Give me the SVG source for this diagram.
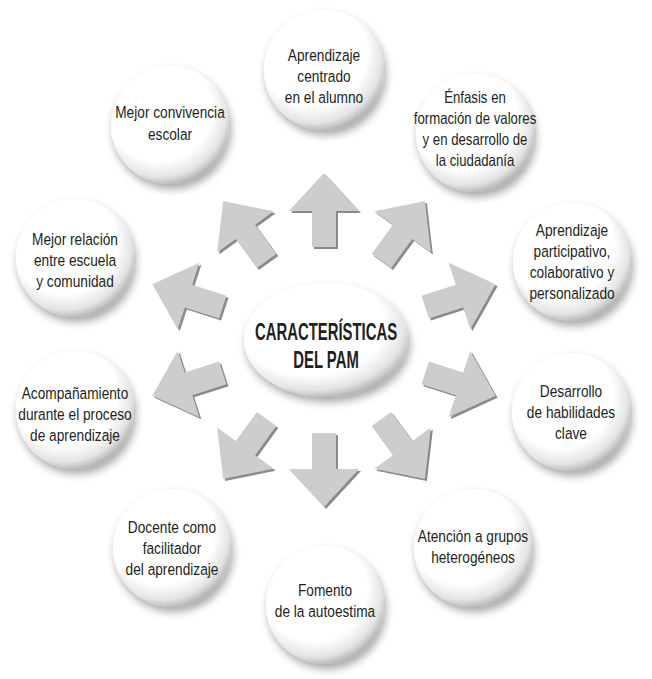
<svg xmlns="http://www.w3.org/2000/svg" xmlns:xlink="http://www.w3.org/1999/xlink" width="652" height="679" viewBox="0 0 652 679">
<style>
.lbl{font-family:"Liberation Sans",Arial,sans-serif;font-size:16.5px;fill:#231f20;text-anchor:middle}
.ttl{font-family:"Liberation Sans",Arial,sans-serif;font-size:24px;font-weight:bold;fill:#231f20;text-anchor:middle}
.ball{fill:url(#gBall);filter:url(#sh)}
.aL{fill:#cdcdcd}
.aD{fill:#8a8a8a}
</style>
<defs>
<radialGradient id="gBall" cx="0.42" cy="0.38" r="0.66" fx="0.38" fy="0.32">
<stop offset="0" stop-color="#ffffff"/>
<stop offset="0.68" stop-color="#ffffff"/>
<stop offset="0.86" stop-color="#e4e4e4"/>
<stop offset="1" stop-color="#a4a4a4"/>
</radialGradient>
<filter id="sh" x="-30%" y="-30%" width="160%" height="170%">
<feGaussianBlur in="SourceAlpha" stdDeviation="4"/>
<feOffset dx="2" dy="5" result="b"/>
<feComponentTransfer><feFuncA type="linear" slope="0.35"/></feComponentTransfer>
<feMerge><feMergeNode/><feMergeNode in="SourceGraphic"/></feMerge>
</filter>
<polygon id="arrL" class="aL" points="0,0 -38,-35 -38,-12 -74,-12 -74,12 -38,12 -38,35"/>
<polygon id="arrD" class="aD" points="0,0 -38,-35 -38,-12 -74,-12 -74,12 -38,12 -38,35"/>
</defs>
<rect width="652" height="679" fill="#ffffff"/>

<g id="connectors">
<g transform="translate(324,173)"><use xlink:href="#arrD" transform="translate(2,2) rotate(-90)"/><use xlink:href="#arrL" transform="rotate(-90)"/></g>
<g transform="translate(424.9,201.1)"><use xlink:href="#arrD" transform="translate(2,2) rotate(-54)"/><use xlink:href="#arrL" transform="rotate(-54)"/></g>
<g transform="translate(495.6,284.3)"><use xlink:href="#arrD" transform="translate(2,2) rotate(-18)"/><use xlink:href="#arrL" transform="rotate(-18)"/></g>
<g transform="translate(495.6,395.7)"><use xlink:href="#arrD" transform="translate(2,2) rotate(18)"/><use xlink:href="#arrL" transform="rotate(18)"/></g>
<g transform="translate(424.9,478.9)"><use xlink:href="#arrD" transform="translate(2,2) rotate(54)"/><use xlink:href="#arrL" transform="rotate(54)"/></g>
<g transform="translate(324,507)"><use xlink:href="#arrD" transform="translate(2,2) rotate(90)"/><use xlink:href="#arrL" transform="rotate(90)"/></g>
<g transform="translate(223.1,478.9)"><use xlink:href="#arrD" transform="translate(2,2) rotate(126)"/><use xlink:href="#arrL" transform="rotate(126)"/></g>
<g transform="translate(152.4,395.7)"><use xlink:href="#arrD" transform="translate(2,2) rotate(162)"/><use xlink:href="#arrL" transform="rotate(162)"/></g>
<g transform="translate(152.4,284.3)"><use xlink:href="#arrD" transform="translate(2,2) rotate(-162)"/><use xlink:href="#arrL" transform="rotate(-162)"/></g>
<g transform="translate(223.1,201.1)"><use xlink:href="#arrD" transform="translate(2,2) rotate(-126)"/><use xlink:href="#arrL" transform="rotate(-126)"/></g>
</g>

<g id="center">
<ellipse class="ball" cx="326" cy="340" rx="82" ry="57"/>
<g transform="translate(326,0) scale(0.62,1)">
<text class="ttl" x="0" y="340">CARACTERÍSTICAS</text>
<text class="ttl" x="0" y="368">DEL PAM</text>
</g>
</g>

<g id="n1">
<circle class="ball" cx="324" cy="70" r="60"/>
<g transform="translate(324,0) scale(0.83,1)">
<text class="lbl" x="0" y="61">Aprendizaje</text>
<text class="lbl" x="0" y="82">centrado</text>
<text class="lbl" x="0" y="103">en el alumno</text>
</g>
</g>

<g id="n2">
<circle class="ball" cx="475" cy="133" r="59"/>
<g transform="translate(475,0) scale(0.8,1)">
<text class="lbl" x="0" y="103">Énfasis en</text>
<text class="lbl" x="0" y="124">formación de valores</text>
<text class="lbl" x="0" y="145">y en desarrollo de</text>
<text class="lbl" x="0" y="166">la ciudadanía</text>
</g>
</g>

<g id="n3">
<circle class="ball" cx="572" cy="262" r="59"/>
<g transform="translate(572,0) scale(0.83,1)">
<text class="lbl" x="0" y="236">Aprendizaje</text>
<text class="lbl" x="0" y="257">participativo,</text>
<text class="lbl" x="0" y="278">colaborativo y</text>
<text class="lbl" x="0" y="299">personalizado</text>
</g>
</g>

<g id="n4">
<circle class="ball" cx="571" cy="412" r="59"/>
<g transform="translate(571,0) scale(0.83,1)">
<text class="lbl" x="0" y="397">Desarrollo</text>
<text class="lbl" x="0" y="418">de habilidades</text>
<text class="lbl" x="0" y="439">clave</text>
</g>
</g>

<g id="n5">
<circle class="ball" cx="473" cy="548" r="59"/>
<g transform="translate(473,0) scale(0.83,1)">
<text class="lbl" x="0" y="542">Atención a grupos</text>
<text class="lbl" x="0" y="563">heterogéneos</text>
</g>
</g>

<g id="n6">
<circle class="ball" cx="325" cy="605" r="59"/>
<g transform="translate(325,0) scale(0.83,1)">
<text class="lbl" x="0" y="596">Fomento</text>
<text class="lbl" x="0" y="617">de la autoestima</text>
</g>
</g>

<g id="n7">
<circle class="ball" cx="172" cy="548" r="59"/>
<g transform="translate(172,0) scale(0.83,1)">
<text class="lbl" x="0" y="533">Docente como</text>
<text class="lbl" x="0" y="554">facilitador</text>
<text class="lbl" x="0" y="575">del aprendizaje</text>
</g>
</g>

<g id="n8">
<circle class="ball" cx="75" cy="410" r="59"/>
<g transform="translate(75,0) scale(0.83,1)">
<text class="lbl" x="0" y="399">Acompañamiento</text>
<text class="lbl" x="0" y="420">durante el proceso</text>
<text class="lbl" x="0" y="441">de aprendizaje</text>
</g>
</g>

<g id="n9">
<circle class="ball" cx="75" cy="258" r="59"/>
<g transform="translate(75,0) scale(0.83,1)">
<text class="lbl" x="0" y="245">Mejor relación</text>
<text class="lbl" x="0" y="266">entre escuela</text>
<text class="lbl" x="0" y="287">y comunidad</text>
</g>
</g>

<g id="n10">
<circle class="ball" cx="170" cy="125" r="59"/>
<g transform="translate(170,0) scale(0.83,1)">
<text class="lbl" x="0" y="118">Mejor convivencia</text>
<text class="lbl" x="0" y="140">escolar</text>
</g>
</g>
</svg>
